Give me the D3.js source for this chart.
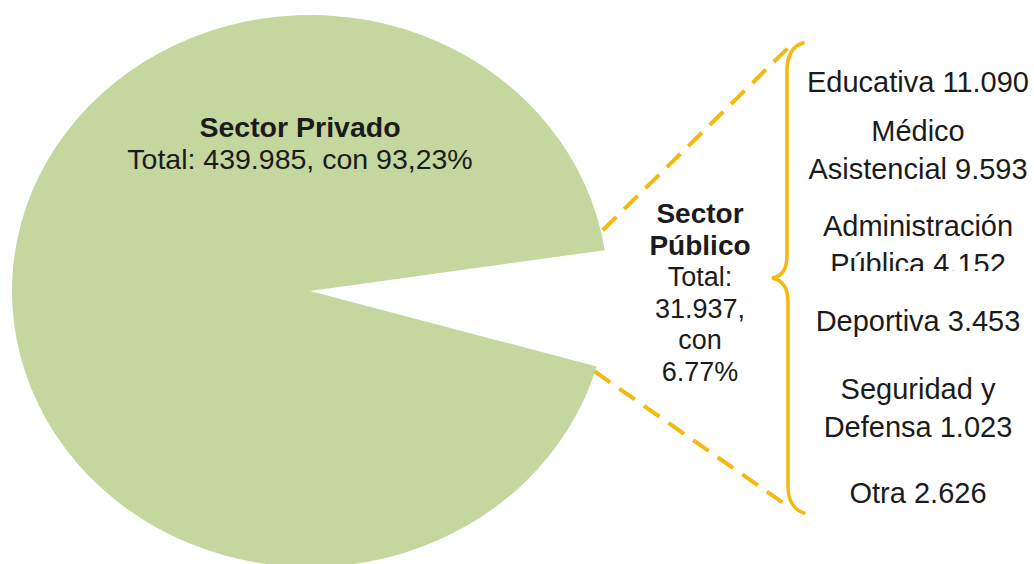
<!DOCTYPE html>
<html>
<head>
<meta charset="utf-8">
<script src="https://cdn.jsdelivr.net/npm/d3@7"></script>
<style>
	html, body { margin: 0; padding: 0; background: #fff; }
	#chart { width: 1034px; height: 564px; overflow: hidden; }
	text { font-family: Arial, "Liberation Sans", sans-serif; fill: #1b1b1b; }
</style>
</head>
<body>
<div id="chart"></div>
<script>
	// sectors of the pie (only the private slice is filled)
	var sectors = ["Sector Público", "Sector Privado"];
	var sectorTotals = [31937, 439985];
	var sectorPct = ["6.77%", "93,23%"];

	// breakdown of the public sector
	var publicCats = ["Educativa", "Médico\nAsistencial", "Administración\nPública", "Deportiva", "Seguridad y\nDefensa", "Otra"];
	var publicVals = [11090, 9593, 4152, 3453, 1023, 2626];

	var W = 1034, H = 564;
	var green = "#c4d79e", gold = "#f3b90f";

	var es = d3.formatLocale({decimal: ",", thousands: ".", grouping: [3], currency: ["", ""]});
	var fmt = es.format(",d");

	var svg = d3.select("#chart").append("svg")
		.attr("width", W)
		.attr("height", H);

	// pie geometry: slightly stretched horizontally like the source picture
	var cx = 310, cy = 291, r = 276, sx = 298 / 276;
	var a0 = 81.5 * Math.PI / 180;

	var pie = d3.pie().sort(null).startAngle(a0).endAngle(a0 + 2 * Math.PI);
	var arcs = pie(sectorTotals);
	var arc = d3.arc().innerRadius(0).outerRadius(r);

	var pieG = svg.append("g")
		.attr("transform", `translate(${cx},${cy}) scale(${sx},1)`);

	pieG.selectAll("path")
		.data(arcs)
		.join("path")
		.attr("d", arc)
		.attr("fill", (d, i) => i === 1 ? green : "none");

	// corner points of the missing (public) wedge
	function corner(angle){
		return [cx + sx * r * Math.sin(angle), cy - r * Math.cos(angle)];
	}
	var pub = arcs[0];
	var cTop = corner(pub.startAngle);
	var cBot = corner(pub.endAngle);

	// dashed connectors to the brace
	var dashed = [
		[cTop, [789, 47]],
		[cBot, [789, 507]],
	];
	svg.selectAll("line.conn")
		.data(dashed)
		.join("line")
		.attr("class", "conn")
		.attr("x1", d => d[0][0] - 2)
		.attr("y1", d => d[0][1] + (d[0][1] < cy ? -20 : 5))
		.attr("x2", d => d[1][0])
		.attr("y2", d => d[1][1])
		.attr("stroke", gold)
		.attr("stroke-width", 4)
		.attr("stroke-dasharray", "19 11");

	// curly brace
	var bp = d3.path();
	bp.moveTo(803, 43);
	bp.quadraticCurveTo(786, 48, 787, 75);
	bp.lineTo(787, 255);
	bp.quadraticCurveTo(787, 276, 772, 278);
	bp.quadraticCurveTo(788, 281, 788, 302);
	bp.lineTo(788, 488);
	bp.quadraticCurveTo(789, 508, 804, 513);
	svg.append("path")
		.attr("d", bp.toString())
		.attr("fill", "none")
		.attr("stroke", gold)
		.attr("stroke-width", 3.5)
		.attr("stroke-linecap", "round");

	// private sector label
	var priv = svg.append("g");
	priv.append("text")
		.attr("x", 300).attr("y", 137)
		.attr("text-anchor", "middle")
		.style("font-size", "28.5px")
		.style("font-weight", "bold")
		.text(sectors[1]);
	priv.append("text")
		.attr("x", 300).attr("y", 169)
		.attr("text-anchor", "middle")
		.style("font-size", "28.5px")
		.text(`Total: ${fmt(sectorTotals[1])}, con ${sectorPct[1]}`);

	// public sector label
	var pubWords = sectors[0].split(" ");
	var pubLines = [
		{t: pubWords[0], b: true},
		{t: pubWords[1], b: true},
		{t: "Total:"},
		{t: fmt(sectorTotals[0]) + ","},
		{t: "con"},
		{t: sectorPct[0]},
	];
	svg.append("g").selectAll("text")
		.data(pubLines)
		.join("text")
		.attr("x", 700)
		.attr("y", (d, i) => 223 + i * 31.5)
		.attr("text-anchor", "middle")
		.style("font-size", d => d.b ? "28px" : "27px")
		.style("font-weight", d => d.b ? "bold" : "normal")
		.text(d => d.t);

	// breakdown labels on the right
	var firstBase = [92, 141, 236, 331, 399, 503];
	var lh = 38;

	svg.append("defs").append("clipPath")
		.attr("id", "cutline")
		.append("rect")
		.attr("x", 800).attr("y", 244)
		.attr("width", 234).attr("height", 27);

	publicCats.forEach(function(cat, i){
		var lines = cat.split("\n");
		lines[lines.length - 1] += " " + fmt(publicVals[i]);
		lines.forEach(function(line, k){
			var t = svg.append("text")
				.attr("x", 918)
				.attr("y", firstBase[i] + k * lh)
				.attr("text-anchor", "middle")
				.style("font-size", "29px")
				.text(line);
			// the source cuts this line off at the bottom
			if(i === 2 && k === 1)
				t.attr("clip-path", "url(#cutline)");
		});
	});
</script>
</body>
</html>
